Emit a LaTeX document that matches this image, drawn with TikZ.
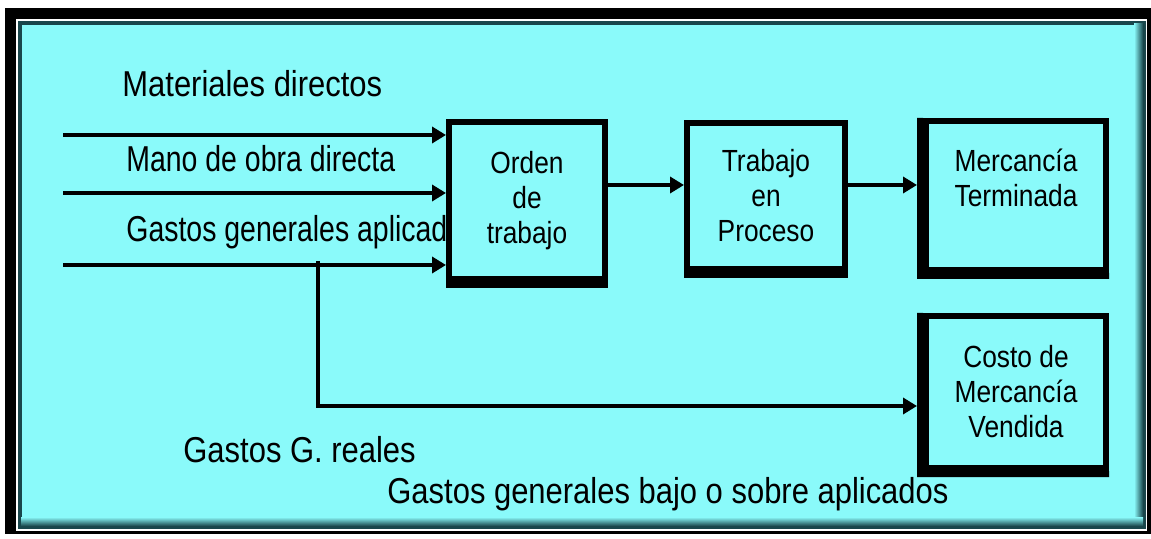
\documentclass[tikz,border=0pt]{standalone}
\usepackage{fontspec}
\setmainfont{Liberation Sans}[FakeStretch=0.86]
\newfontfamily\angosta{Liberation Sans}[FakeStretch=0.79]
\usetikzlibrary{arrows.meta,positioning}

\definecolor{fondo}{RGB}{138,250,250}
\definecolor{borde}{RGB}{25,70,75}

\tikzset{
	caja/.style = {draw, fill=fondo, line width=3pt, align=center, inner sep=0pt,
		font=\fontsize{15.3}{17.5}\selectfont},
	etiqueta/.style = {inner sep=0pt, anchor=base west, font=\fontsize{18}{21}\selectfont},
	etiqueta angosta/.style = {etiqueta, font=\angosta\fontsize{18}{21}\selectfont},
	flecha/.style = {line width=2.2pt, -{Triangle[length=7pt,width=8pt]}}
}

\begin{document}
\begin{tikzpicture}[x=0.5pt, y=-0.5pt]
		\useasboundingbox (0,0) rectangle (1151,539);
		
		% marco
		\fill[black] (5,8) rectangle (1151,534);
		\fill[white] (16,19) rectangle (1147,531);
		\filldraw[fill=fondo, draw=borde, line width=2pt] (20,23) rectangle (1144,527);
		\shade[left color=fondo, right color=borde] (1134,24) rectangle (1143,526);
		\shade[top color=fondo, bottom color=borde] (21,517) rectangle (1143,526);
		
		\node[etiqueta] (materiales) at (122,97) {Materiales directos};
		\node[etiqueta angosta] (mano) at (126,172) {Mano de obra directa};
		\node[etiqueta angosta] (aplicados) at (126,242) {Gastos generales aplicad};
		\node[etiqueta] (reales) at (183,463) {Gastos G. reales};
		\node[etiqueta] (bajo) at (387,503) {Gastos generales bajo o sobre aplicados};
		
		\node[caja, minimum width=78pt, minimum height=78.5pt] (orden) at (527,200.5) {Orden\\de\\trabajo};
		\node[caja, minimum width=79pt, minimum height=73pt] (proceso) at (766,196) {Trabajo\\en\\Proceso};
		\node[caja, minimum width=90pt, minimum height=74.5pt] (terminada) at (1016,195.5) {Mercancía\\Terminada\\\mbox{}};
		\node[caja, minimum width=90pt, minimum height=76pt] (vendida) at (1016,392) {Costo de\\Mercancía\\Vendida};
		
		% bordes gruesos
		\foreach \c in {orden,proceso}
			\fill (\c.south west) rectangle ([yshift=-3pt]\c.south east);
		\foreach \c in {terminada,vendida}
			\fill ([xshift=-3pt]\c.north west) -- ([xshift=-3pt,yshift=-3pt]\c.south west) -- ([yshift=-3pt]\c.south east) -- (\c.south east) -- (\c.south west) -- (\c.north west) -- cycle;
		
		\coordinate (e1) at (63,135);
		\coordinate (e2) at (63,193);
		\coordinate (e3) at (63,265);
		\coordinate (r) at (318,261);
		\coordinate (b) at (318,406);
		\coordinate (m) at (0,185);
		
		\draw[flecha] (e1) -- (e1 -| orden.west);
		\draw[flecha] (e2) -- (e2 -| orden.west);
		\draw[flecha] (e3) -- (e3 -| orden.west);
		\draw[flecha] (orden.east |- m) -- (proceso.west |- m);
		\draw[flecha, shorten >=3pt] (proceso.east |- m) -- (terminada.west |- m);
		\draw[flecha, shorten >=3pt] (r) -- (b) -- (b -| vendida.west); % reales
	\end{tikzpicture}
\end{document}
